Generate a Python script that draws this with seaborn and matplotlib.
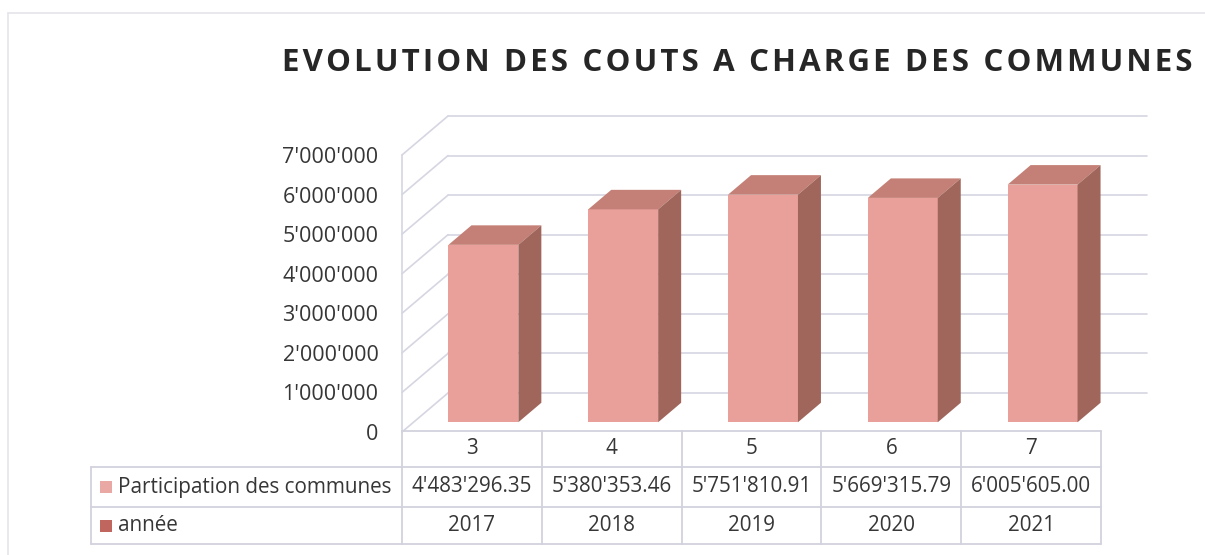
import numpy as np
import matplotlib
matplotlib.use("Agg")
import matplotlib.pyplot as plt
import seaborn as sns
from matplotlib.patches import Polygon, Rectangle
from matplotlib.lines import Line2D
from matplotlib.transforms import blended_transform_factory

# --- data ---
categories = [3, 4, 5, 6, 7]
participation = [4483296.35, 5380353.46, 5751810.91, 5669315.79, 6005605.00]
annee = [2017, 2018, 2019, 2020, 2021]
yticks = [0, 1000000, 2000000, 3000000, 4000000, 5000000, 6000000, 7000000]
title = "EVOLUTION DES COUTS A CHARGE DES COMMUNES"
series_names = ["Participation des communes", "année"]

# --- style ---
W, H = 1205, 555
FRONT = "#E9A09B"
TOP = "#C48076"
SIDE = "#A0665C"
KEY_COLORS = ["#E9A8A4", "#C0665E"]
GRID = "#D6D6E2"
TXT = "#363636"
FS = 15.5
FS_TAB = 14.9

sns.set_theme(style="white")
plt.rcParams["font.family"] = ["Open Sans", "DejaVu Sans"]

fig = plt.figure(figsize=(W / 100, H / 100), dpi=100)
fig.patch.set_facecolor("white")


def fx(px):
    return px / W


def fy(py):
    return 1 - py / H


# front plane of the 3D box
left, right, y0px, y7px = 402, 1101, 432, 155
ax = fig.add_axes([fx(left), fy(y0px), fx(right - left), (y0px - y7px) / H])
ax.set_facecolor("none")

sns.barplot(x=categories, y=participation, color=FRONT, width=0.5,
            saturation=1, ax=ax, edgecolor="none", linewidth=0)
ax.set_xlim(-0.5, len(categories) - 0.5)
ax.set_ylim(0, 7000000)

# depth of the box in data units (46 px right, 39 px up)
DX = 46 / (right - left) * len(categories)
DY = 39 / (y0px - y7px) * 7000000

# back wall + left wall gridlines
for v in yticks:
    ax.add_line(Line2D([-0.5 + DX, len(categories) - 0.5 + DX], [v + DY, v + DY],
                       color=GRID, lw=1.2, clip_on=False, zorder=0))
    ax.add_line(Line2D([-0.5, -0.5 + DX], [v, v + DY],
                       color=GRID, lw=1.2, clip_on=False, zorder=0))
ax.add_line(Line2D([-0.5, -0.5], [0, 7000000], color=GRID, lw=1.2,
                   clip_on=False, zorder=0))

# push bars to mid-depth and add top / side faces
f0, fd = 0.25, 0.5
for p in ax.patches:
    p.set_x(p.get_x() + f0 * DX)
    p.set_y(p.get_y() + f0 * DY)
    p.set_zorder(3)
    x1, y1 = p.get_x(), p.get_y()
    x2, y2 = x1 + p.get_width(), y1 + p.get_height()
    ddx, ddy = fd * DX, fd * DY
    ax.add_patch(Polygon([(x1, y2), (x2, y2), (x2 + ddx, y2 + ddy), (x1 + ddx, y2 + ddy)],
                         closed=True, facecolor=TOP, edgecolor="none", zorder=3, clip_on=False))
    ax.add_patch(Polygon([(x2, y1), (x2 + ddx, y1 + ddy), (x2 + ddx, y2 + ddy), (x2, y2)],
                         closed=True, facecolor=SIDE, edgecolor="none", zorder=3, clip_on=False))

ax.set_yticks(yticks)
ax.set_yticklabels([f"{v:,}".replace(",", "'") for v in yticks], fontsize=FS, color=TXT)
ax.tick_params(axis="y", length=0, pad=17)
ax.set_xticks([])
ax.set_xlabel("")
for s in ax.spines.values():
    s.set_visible(False)

# --- data table ---
rows_px = [431, 467, 507, 544]
lab_left = 91
tb = blended_transform_factory(ax.transData, fig.transFigure)
n = len(categories)
lc = "#D2D2DE"
for i, r in enumerate(rows_px):
    fig.add_artist(Line2D([-0.5, n - 0.5], [fy(r), fy(r)], transform=tb, color=lc, lw=1.3))
    if i > 0:
        fig.add_artist(Line2D([fx(lab_left), fx(left)], [fy(r), fy(r)], color=lc, lw=1.3))
for k in range(n + 1):
    fig.add_artist(Line2D([k - 0.5, k - 0.5], [fy(rows_px[0]), fy(rows_px[-1])],
                          transform=tb, color=lc, lw=1.3))
fig.add_artist(Line2D([fx(lab_left), fx(lab_left)], [fy(rows_px[1]), fy(rows_px[-1])],
                      color=lc, lw=1.3))

row_mid = [(rows_px[j] + rows_px[j + 1]) / 2 for j in range(3)]
for i in range(n):
    fig.text(i, fy(row_mid[0]), str(categories[i]), transform=tb, ha="center", va="center",
             fontsize=FS_TAB, color=TXT)
    fig.text(i, fy(row_mid[1]), f"{participation[i]:,.2f}".replace(",", "'"), transform=tb,
             ha="center", va="center", fontsize=FS_TAB, color=TXT)
    fig.text(i, fy(row_mid[2]), str(annee[i]), transform=tb, ha="center", va="center",
             fontsize=FS_TAB, color=TXT)

for j, name in enumerate(series_names):
    cy = row_mid[j + 1]
    fig.add_artist(Rectangle((fx(100), fy(cy + 6)), 12 / W, 12 / H,
                             facecolor=KEY_COLORS[j], edgecolor="none"))
    fig.text(fx(118), fy(cy), name, ha="left", va="center", fontsize=FS_TAB, color=TXT)

# title with a little letter spacing
spaced = "\u200a".join(title)
fig.text(fx(737), fy(63), spaced, ha="center", va="center", fontsize=22.5,
         fontweight="bold", color="#262626")

# faint chart frame
fig.add_artist(Line2D([fx(8), fx(8)], [fy(13), 0], color="#E4E4EA", lw=1.2))
fig.add_artist(Line2D([fx(8), 1], [fy(13), fy(13)], color="#E4E4EA", lw=1.2))

fig.savefig("out.png", dpi=100, facecolor="white")
